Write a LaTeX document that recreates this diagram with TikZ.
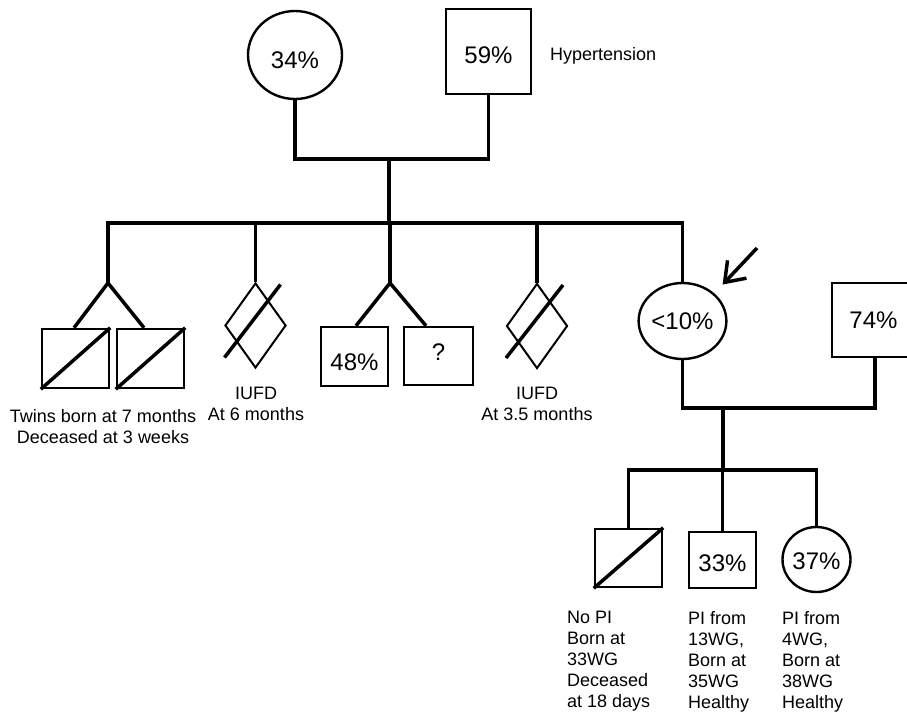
\documentclass[tikz,border=0pt]{standalone}
\usepackage{fontspec}
\setmainfont{Liberation Sans}
\usetikzlibrary{shapes.geometric,arrows.meta,calc}
\newcommand{\shiftpct}[2]{\raisebox{#1}[\height][\depth]{#2}}
\begin{document}
\begin{tikzpicture}[x=1pt,y=-1pt,
  lbl/.style={font=\fontsize{18}{21}\selectfont, inner sep=0pt},
  pct/.style={font=\fontsize{24}{28}\selectfont},
  sq/.style={draw, line width=2.4pt, rectangle, inner sep=0pt, pct},
  ci/.style={draw, line width=2.4pt, ellipse, inner sep=0pt, pct},
  dia/.style={draw, line width=2pt, diamond, inner sep=0pt, minimum width=61pt, minimum height=85pt},
  ln/.style={line width=3.5pt, line join=miter},
  slash/.style={line width=3.5pt}
]
\useasboundingbox (0,0) rectangle (907,715);

% generation I
\node[ci, minimum width=94pt, minimum height=88pt] (mo) at (295,55) {\shiftpct{-5pt}{34\%}};
\node[sq, minimum width=85pt, minimum height=85pt] (fa) at (488.5,51.5) {\shiftpct{-4pt}{59\%}};
\node[lbl, anchor=west] (ht) at (550,56) {Hypertension};
\coordinate (cpl) at (389,159);
\coordinate (sib) at (389,223);
\coordinate (sibR) at (682.5,223);
\draw[ln] (mo.south) -- (mo.south |- cpl) -- (fa.south |- cpl) -- (fa.south);
\draw[ln] (cpl) -- (sib);

% generation II
\coordinate (tw) at (108,283);
\node[sq, minimum width=67pt, minimum height=59pt] (t1) at (75.5,358.5) {};
\node[sq, minimum width=67pt, minimum height=59pt] (t2) at (150.5,358.5) {};
\draw[slash] (t1.south west) -- (t1.north east);
\draw[slash] (t2.south west) -- (t2.north east);
\draw[ln] (tw) -- (tw |- sib) -- (sibR) -- (682.5,283);
\draw[ln] ($(t1.north)+(-1.5,0)$) -- (tw) -- ($(t2.north)+(-6.5,0)$);

\node[dia] (d1) at (255.5,325.5) {};
\draw[slash] ($(d1.center)+(-31,32)$) -- ($(d1.center)+(25,-41)$);
\draw[ln] (d1.north) -- (d1.north |- sib);

\coordinate (sp) at (390,283);
\node[sq, minimum width=67pt, minimum height=59pt] (b48) at (354.5,356.5) {\shiftpct{-6pt}{48\%}};
\node[sq, minimum width=69pt, minimum height=58pt] (bq) at (438.5,356) {\shiftpct{4pt}{?}};
\draw[ln] (sp) -- (sp |- sib);
\draw[ln] ($(b48.north)+(1.5,0)$) -- (sp) -- ($(bq.north)+(-12.5,0)$);

\node[dia] (d2) at (537,326) {};
\draw[slash] ($(d2.center)+(-31,32)$) -- ($(d2.center)+(26,-41)$);
\draw[ln] (d2.north) -- (d2.north |- sib);

\node[ci, minimum width=81pt, minimum height=76pt] (pb) at (682.5,321) {<10\%};
\node[sq, minimum width=83pt, minimum height=74pt] (sp2) at (873.5,320) {74\%};
\coordinate (arT) at (757,248);
\draw[line width=3.5pt, -{Straight Barb[length=18pt,width=26pt]}, shorten >=12pt] (arT) -- (pb.north east);

\node[lbl, align=center, anchor=north] (twl) at (103,409) {Twins born at 7 months\\Deceased at 3 weeks};
\node[lbl, align=center, anchor=north] (d1l) at (256,387) {IUFD\\At 6 months};
\node[lbl, align=center, anchor=north] (d2l) at (537,387) {IUFD\\At 3.5 months};

% generation III
\coordinate (cpl2) at (723,408);
\coordinate (sib2) at (723,470);
\draw[ln] (pb.south) -- (pb.south |- cpl2) -- (875,408) -- (875,357);
\draw[ln] (cpl2) -- (sib2);

\node[sq, minimum width=67pt, minimum height=58pt] (k1) at (628.5,558) {};
\draw[slash] (k1.south west) -- (k1.north east);
\node[sq, minimum width=67pt, minimum height=56pt] (k2) at (722.5,560) {\shiftpct{-3pt}{33\%}};
\node[ci, minimum width=68pt, minimum height=65pt] (k3) at (816.5,559.5) {\shiftpct{-2pt}{37\%}};
\draw[ln] (k1.north) -- (k1.north |- sib2) -- (k3.north |- sib2) -- (k3.north);
\draw[ln] (k2.north) -- (k2.north |- sib2);

\node[lbl, align=left, anchor=north west] (k1l) at (567,611) {No PI\\Born at\\33WG\\Deceased\\at 18 days};
\node[lbl, align=left, anchor=north west] (k2l) at (688,611) {PI from\\13WG,\\Born at\\35WG\\Healthy};
\node[lbl, align=left, anchor=north west] (k3l) at (782,611) {PI from\\4WG,\\Born at\\38WG\\Healthy};
\end{tikzpicture}
\end{document}
